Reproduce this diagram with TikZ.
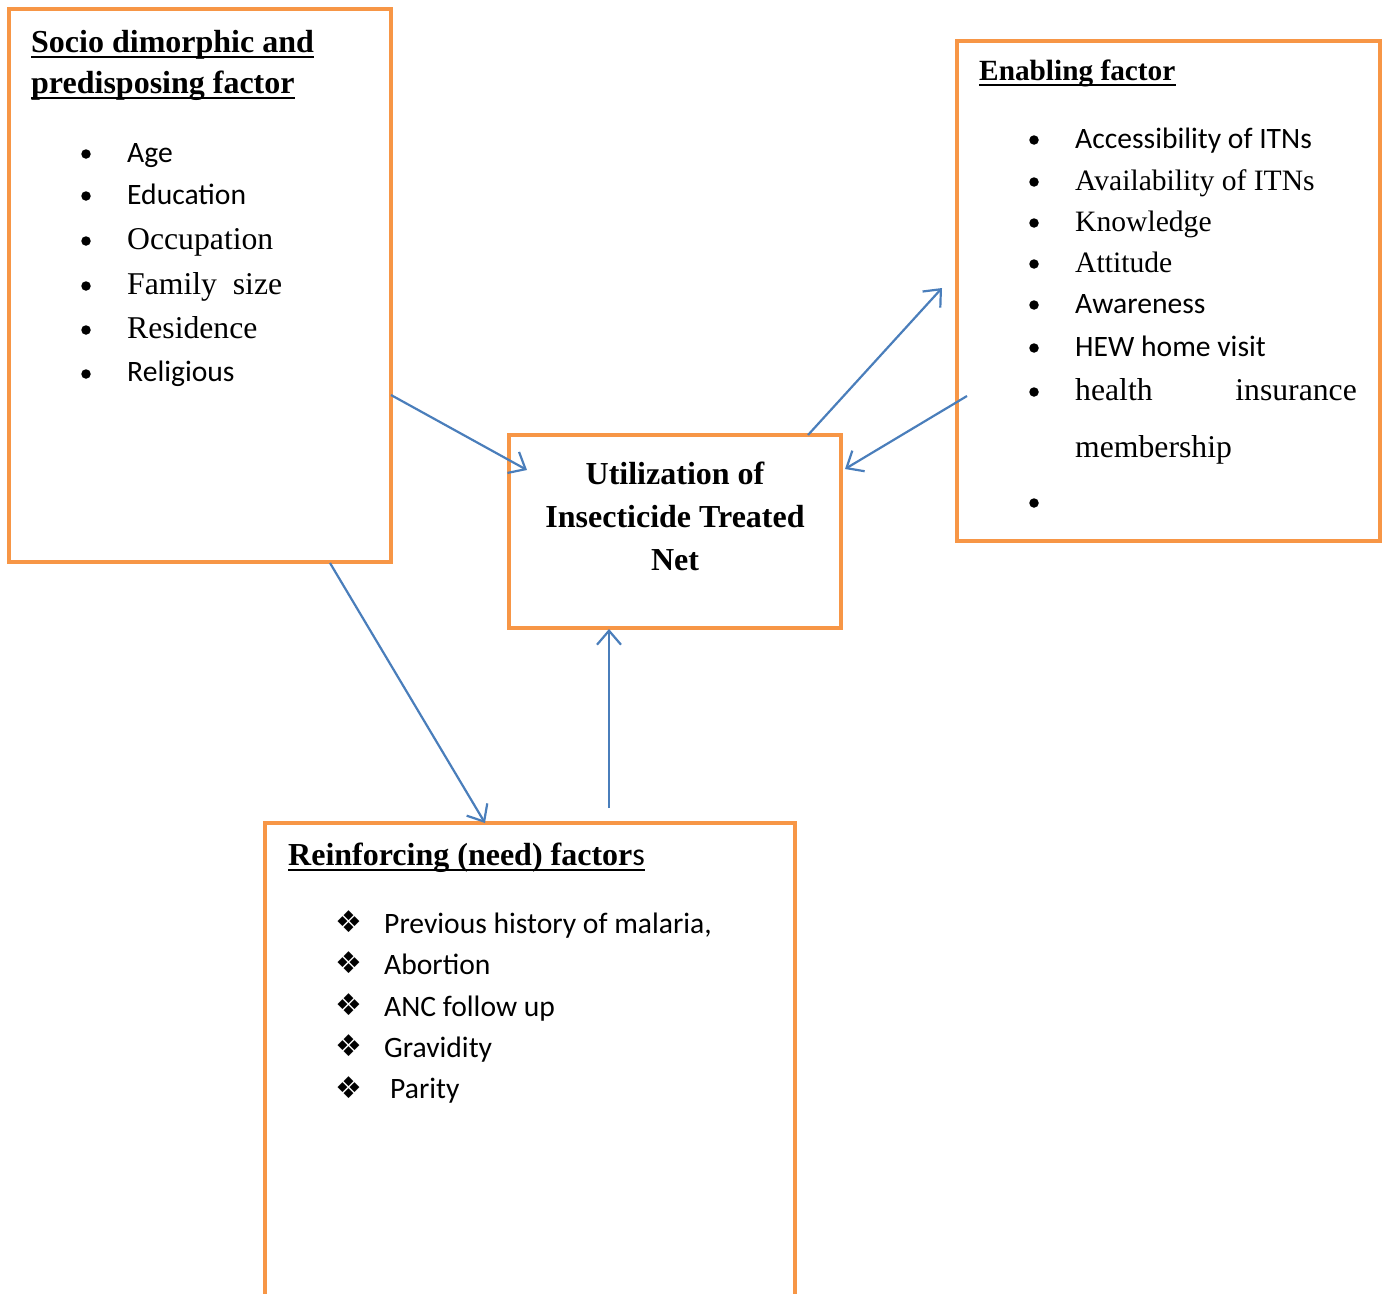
\documentclass[tikz,border=0pt]{standalone}
\usepackage{fontspec}
\setmainfont{Liberation Serif}
\newfontfamily\calfont{Carlito}
\newfontfamily\symfont{DejaVu Sans}
\usetikzlibrary{arrows.meta,calc}
\definecolor{boxorange}{HTML}{F79646}
\definecolor{arrowblue}{HTML}{4A7EBB}
\begin{document}
\begin{tikzpicture}[x=1pt,y=-1pt,
  box/.style={draw=boxorange, line width=4.5pt, inner sep=0pt, outer sep=0pt, anchor=north west},
  tms/.style={anchor=base west, inner sep=0pt, font=\fontsize{31.7}{30}\selectfont},
  tmss/.style={anchor=base west, inner sep=0pt, font=\fontsize{29.6}{30}\selectfont},
  clb/.style={anchor=base west, inner sep=0pt, font=\calfont\fontsize{29.6}{30}\selectfont},
  ttl/.style={anchor=base west, inner sep=0pt, font=\bfseries\fontsize{32}{30}\selectfont},
  ttls/.style={anchor=base west, inner sep=0pt, font=\bfseries\fontsize{29.3}{30}\selectfont},
  ctr/.style={anchor=base, inner sep=0pt, font=\bfseries\fontsize{32}{30}\selectfont},
  bul/.style={circle, fill=black, inner sep=0pt, minimum size=9.5pt},
  dia/.style={inner sep=0pt, font=\symfont\fontsize{30}{30}\selectfont},
  uline/.style={line width=2.6pt},
  arr/.style={draw=arrowblue, line width=2.2pt, -{Straight Barb[length=14pt,width=24pt]}}]
\useasboundingbox (0,0) rectangle (1383,1293);

% boxes
\node[box, minimum width=382pt, minimum height=553pt] (socio) at (9,9) {};
\node[box, minimum width=332pt, minimum height=193pt] (util) at (509,435) {};
\node[box, minimum width=423pt, minimum height=500pt] (enab) at (957,41) {};
\node[box, minimum width=530pt, minimum height=476pt] (reinf) at (265,823) {};

% socio box
\node[ttl] (s1) at (31,52) {Socio dimorphic and};
\node[ttl] (s2) at (31,93) {predisposing factor};
\draw[uline] ($(s1.base west)+(0,5)$) -- ($(s1.base east)+(0,5)$);
\draw[uline] ($(s2.base west)+(0,5)$) -- ($(s2.base east)+(0,5)$);
\node[bul] (sb1) at (86,154) {};
\node[bul] (sb2) at (86,196) {};
\node[bul] (sb3) at (86,241) {};
\node[bul] (sb4) at (86,286) {};
\node[bul] (sb5) at (86,330) {};
\node[bul] (sb6) at (86,374) {};
\node[clb] (si1) at (127,162) {Age};
\node[clb] (si2) at (127,204) {Education};
\node[tms] (si3) at (127,249) {Occupation};
\node[tms] (si4) at (127,294) {Family\ \ size};
\node[tms] (si5) at (127,338) {Residence};
\node[clb] (si6) at (127,381) {Religious};

% centre box
\node[ctr] (u1) at (675,484) {Utilization of};
\node[ctr] (u2) at (675,527) {Insecticide Treated};
\node[ctr] (u3) at (675,570) {Net};

% enabling box
\node[ttls] (e0) at (979,80) {Enabling factor};
\draw[uline] ($(e0.base west)+(0,5)$) -- ($(e0.base east)+(0,5)$);
\node[bul] (eb1) at (1034,140) {};
\node[bul] (eb2) at (1034,182) {};
\node[bul] (eb3) at (1034,223) {};
\node[bul] (eb4) at (1034,264) {};
\node[bul] (eb5) at (1034,305) {};
\node[bul] (eb6) at (1034,348) {};
\node[bul] (eb7) at (1034,392) {};
\node[bul] (eb8) at (1034,503) {};
\node[clb] (ei1) at (1075,148) {Accessibility of ITNs};
\node[tmss] (ei2) at (1075,190) {Availability of ITNs};
\node[tmss] (ei3) at (1075,231) {Knowledge};
\node[tmss] (ei4) at (1075,272) {Attitude};
\node[clb] (ei5) at (1075,313) {Awareness};
\node[clb] (ei6) at (1075,356) {HEW home visit};
\node[tms] (ei7a) at (1075,400) {health};
\node[tms, anchor=base east] (ei7b) at (1357,400) {insurance};
\node[tms] (ei8) at (1075,457) {membership};

% reinforcing box
\node[ttl] (r0) at (288,865) {Reinforcing (need) factor{\mdseries\calfont s}};
\draw[uline] ($(r0.base west)+(0,5)$) -- ($(r0.base east)+(0,5)$);
\node[dia] (rd1) at (349,922) {❖};
\node[dia] (rd2) at (349,963) {❖};
\node[dia] (rd3) at (349,1005) {❖};
\node[dia] (rd4) at (349,1046) {❖};
\node[dia] (rd5) at (349,1088) {❖};
\node[clb] (ri1) at (384,933) {Previous history of malaria,};
\node[clb] (ri2) at (384,974) {Abortion};
\node[clb] (ri3) at (384,1016) {ANC follow up};
\node[clb] (ri4) at (384,1057) {Gravidity};
\node[clb] (ri5) at (390,1098) {Parity};

% connector end points
\coordinate (c1s) at (391,395);
\coordinate (c1e) at (527,470);
\coordinate (c2s) at (808,435);
\coordinate (c2e) at (942,288);
\coordinate (c3s) at (967,396);
\coordinate (c3e) at (845,469);
\coordinate (c4s) at (330,563);
\coordinate (c4e) at (485,823);
\coordinate (c5s) at (609,808);
\coordinate (c5e) at (609,629);

\draw[arr] (c1s) -- (c1e);
\draw[arr] (c2s) -- (c2e);
\draw[arr] (c3s) -- (c3e);
\draw[arr] (c4s) -- (c4e);
\draw[arr] (c5s) -- (c5e);
\end{tikzpicture}
\end{document}
